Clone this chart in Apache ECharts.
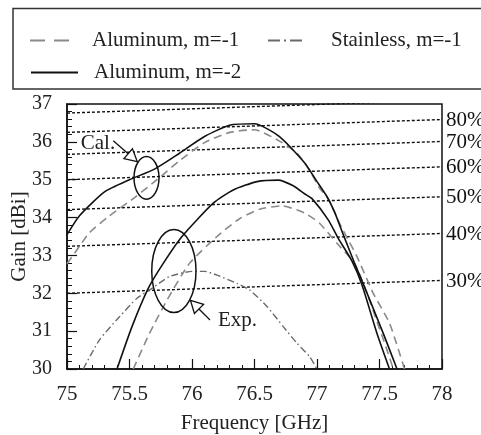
<!DOCTYPE html>
<html><head><meta charset="utf-8">
<script src="https://cdn.jsdelivr.net/npm/echarts@6/dist/echarts.min.js"></script>
<style>html,body{margin:0;padding:0;background:#fff}#c{width:481px;height:435px}</style>
</head><body><div id="c"></div>
<script>
// ---- data ----
const calAlM2 = [[75.00,33.55],[75.10,34.05],[75.30,34.68],[75.50,35.00],[75.70,35.28],[75.90,35.70],[76.10,36.14],[76.30,36.44],[76.50,36.48],[76.70,36.14],[76.90,35.45],[77.00,34.95],[77.08,34.55],[77.14,34.15],[77.21,33.55],[77.30,32.80],[77.38,32.17],[77.53,30.94],[77.64,30.00]];
const calAlM1 = [[75.00,32.78],[75.08,33.15],[75.18,33.60],[75.33,34.02],[75.53,34.50],[75.72,35.00],[75.90,35.50],[76.10,35.98],[76.30,36.25],[76.50,36.32],[76.70,36.02],[76.84,35.70],[76.94,35.25],[77.02,34.78],[77.09,34.50],[77.18,33.85],[77.25,33.41],[77.32,32.97],[77.45,32.00],[77.58,31.21],[77.70,30.00]];
const expAlM2 = [[75.40,30.00],[75.52,31.12],[75.65,32.13],[75.77,32.79],[75.92,33.50],[76.17,34.38],[76.33,34.73],[76.52,34.95],[76.69,34.99],[76.81,34.84],[76.90,34.63],[76.96,34.50],[77.09,33.94],[77.17,33.45],[77.28,32.85],[77.36,32.22],[77.48,30.94],[77.58,30.00]];
const expAlM1 = [[75.53,30.00],[75.66,30.94],[75.80,31.82],[75.98,32.79],[76.20,33.50],[76.38,33.97],[76.54,34.22],[76.72,34.31],[76.90,34.12],[77.02,33.85],[77.16,33.32],[77.30,32.79],[77.40,32.00],[77.48,31.25],[77.55,30.60],[77.61,30.00]];
const stainM1 = [[75.13,30.00],[75.26,30.77],[75.42,31.38],[75.56,31.87],[75.68,32.13],[75.82,32.44],[76.00,32.58],[76.10,32.58],[76.20,32.48],[76.36,32.26],[76.46,32.09],[76.60,31.65],[76.73,31.12],[76.84,30.68],[76.94,30.33],[77.00,30.00]];

// aperture-efficiency reference lines (gain at 75 GHz and at 78 GHz)
const effLabels = ['', '80%', '70%', '60%', '50%', '40%', '30%'];
const effAt75 = [36.76, 36.25, 35.67, 35.00, 34.21, 33.24, 32.00];
const effAt78 = [37.10, 36.59, 36.01, 35.34, 34.55, 33.58, 32.34];
const effFreq = [75, 78];

// annotations: ellipses [cx, cy, rx, ry], arrows [tailX, tailY, tipX, tipY], texts
const ellipses = [[75.636, 35.05, 0.100, 0.563], [75.855, 32.59, 0.177, 1.096]];
const arrows = [[75.37, 36.03, 75.562, 35.48], [76.144, 31.295, 75.988, 31.81]];
const notes = [['Cal.', 75.248, 35.96], ['Exp.', 76.364, 31.29]];

const names = ['Aluminum, m=-1', 'Stainless, m=-1', 'Aluminum, m=-2'];
const FONT = 'Liberation Serif, Times New Roman, serif';
const FS = 21;

const chart = echarts.init(document.getElementById('c'), null, {renderer: 'canvas'});

const effSeries = effAt75.map((g, i) => ({
  type: 'line', silent: true, symbol: 'none', z: 1, clip: true,
  data: [[effFreq[0], g], [effFreq[1], effAt78[i]]],
  lineStyle: {color: '#111', width: 1.4, type: [3, 2]},
  endLabel: {show: effLabels[i] !== '', formatter: effLabels[i], fontFamily: FONT, fontSize: FS, color: '#111', distance: 4, offset: [0, 1]}
}));

function curve(name, data, color, type, width) {
  return {name, type: 'line', data, symbol: 'none', smooth: 0.2, z: 3, clip: true,
    lineStyle: {color, width, type}, itemStyle: {color}};
}

const legendText = (pad) => ({fontFamily: FONT, fontSize: FS, color: '#222', padding: [0, 0, 0, pad]});

const option = {
  animation: false,
  grid: {left: 67, right: 39, top: 104, bottom: 66, containLabel: false, outerBoundsMode: 'none',
    show: true, borderColor: '#111', borderWidth: 1.5, backgroundColor: 'transparent'},
  graphic: [{type: 'rect', shape: {x: 13, y: 8.5, width: 480, height: 80.5}, style: {fill: 'none', stroke: '#333', lineWidth: 1.5}, z: 0}],
  legend: [
    {data: [names[0]], left: 29, top: 30, padding: 0, itemWidth: 39, itemHeight: 14,
      itemStyle: {opacity: 0}, lineStyle: {type: [15, 9]}, textStyle: legendText(18)},
    {data: [names[1]], left: 267, top: 30, padding: 0, itemWidth: 36, itemHeight: 14,
      itemStyle: {opacity: 0}, lineStyle: {type: [12, 4, 2, 4]}, textStyle: legendText(22)},
    {data: [names[2]], left: 30, top: 62, padding: 0, itemWidth: 47, itemHeight: 14,
      itemStyle: {opacity: 0}, textStyle: legendText(11)}
  ],
  xAxis: {
    type: 'value', min: 75, max: 78, interval: 0.5,
    name: 'Frequency [GHz]', nameLocation: 'middle', nameGap: 44, nameMoveOverlap: false,
    nameTextStyle: {fontFamily: FONT, fontSize: FS, color: '#222'},
    axisLine: {lineStyle: {color: '#111', width: 1.5}},
    axisTick: {inside: true, length: 10, lineStyle: {color: '#111', width: 1.2}},
    minorTick: {show: true, splitNumber: 5, length: 4, lineStyle: {color: '#111', width: 1}},
    axisLabel: {fontFamily: FONT, fontSize: FS, color: '#222', margin: 15},
    splitLine: {show: false}
  },
  yAxis: {
    type: 'value', min: 30, max: 37, interval: 1,
    name: 'Gain [dBi]', nameLocation: 'middle', nameGap: 37, nameRotate: 90, nameMoveOverlap: false,
    nameTextStyle: {fontFamily: FONT, fontSize: FS, color: '#222'},
    axisLine: {show: true, lineStyle: {color: '#111', width: 1.5}},
    axisTick: {show: true, inside: true, length: 10, lineStyle: {color: '#111', width: 1.2}},
    minorTick: {show: true, splitNumber: 5, length: 5, lineStyle: {color: '#111', width: 1}},
    axisLabel: {fontFamily: FONT, fontSize: 20, color: '#222', margin: 15},
    splitLine: {show: false}
  },
  series: [
    ...effSeries,
    curve(names[0], calAlM1, '#8a8a8a', [8, 5], 1.6),
    curve(names[0], expAlM1, '#8a8a8a', [8, 5], 1.6),
    curve(names[1], stainM1, '#6a6a6a', [7, 3, 1.5, 3], 1.4),
    curve(names[2], calAlM2, '#111', 'solid', 1.6),
    curve(names[2], expAlM2, '#111', 'solid', 1.6),
    {type: 'custom', silent: true, z: 5, data: ellipses,
      renderItem: (p, api) => {
        const c = api.coord([api.value(0), api.value(1)]);
        const s = api.size([api.value(2), api.value(3)]);
        return {type: 'ellipse', shape: {cx: c[0], cy: c[1], rx: s[0], ry: s[1]}, style: {fill: 'none', stroke: '#111', lineWidth: 1.5}};
      }},
    {type: 'custom', silent: true, z: 5, data: arrows,
      renderItem: (p, api) => {
        const t = api.coord([api.value(0), api.value(1)]);
        const h = api.coord([api.value(2), api.value(3)]);
        const dx = h[0] - t[0], dy = h[1] - t[1];
        const L = Math.hypot(dx, dy), ux = dx / L, uy = dy / L;
        const hl = 12, hw = 6.5;
        const bx = h[0] - ux * hl, by = h[1] - uy * hl;
        return {type: 'group', children: [
          {type: 'line', shape: {x1: t[0], y1: t[1], x2: bx, y2: by}, style: {stroke: '#111', lineWidth: 1.3}},
          {type: 'polygon', shape: {points: [h, [bx - uy * hw, by + ux * hw], [bx + uy * hw, by - ux * hw]]}, style: {fill: '#fff', stroke: '#111', lineWidth: 1.3}}
        ]};
      }},
    {type: 'custom', silent: true, z: 6, data: notes.map(n => [n[1], n[2]]),
      renderItem: (p, api) => {
        const c = api.coord([api.value(0), api.value(1)]);
        return {type: 'text', x: c[0], y: c[1], style: {text: notes[p.dataIndex][0], fontFamily: FONT, fontSize: FS, fill: '#222', align: 'center', verticalAlign: 'middle'}};
      }}
  ]
};
chart.setOption(option);
</script></body></html>
